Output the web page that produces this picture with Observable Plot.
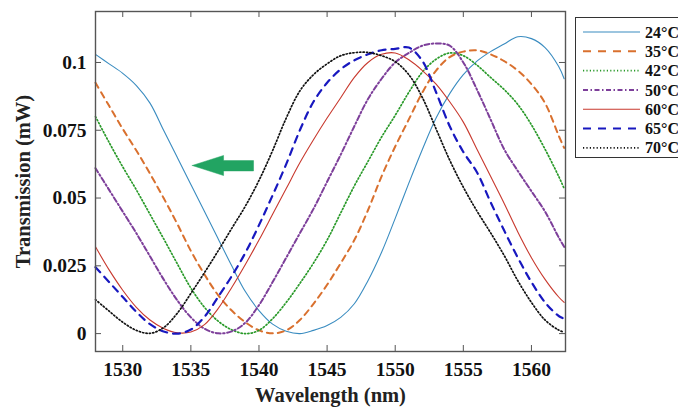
<!DOCTYPE html>
<html><head><meta charset="utf-8">
<script src="https://cdn.jsdelivr.net/npm/d3@7"></script>
<script src="https://cdn.jsdelivr.net/npm/@observablehq/plot@0.6"></script>
<style>body{margin:0;background:#fff}</style>
</head><body><div id="chart"></div>
<script>
// Wavelength samples (nm)
const wavelength = [1528,1529,1530,1531,1532,1533,1534,1535,1536,1537,1538,1539,1540,1541,1542,1543,1544,1545,1546,1547,1548,1549,1550,1551,1552,1553,1554,1555,1556,1557,1558,1559,1560,1561,1562,1562.4];
// Transmission (mW) per temperature
const t24 = [0.103,0.0995,0.096,0.0915,0.085,0.075,0.065,0.055,0.045,0.035,0.025,0.0155,0.0085,0.0035,0.0009,0,0.0012,0.003,0.006,0.011,0.0195,0.030,0.0425,0.0555,0.068,0.0795,0.0885,0.0955,0.1005,0.104,0.1068,0.1095,0.1088,0.1055,0.0985,0.094];
const t35 = [0.0925,0.084,0.0755,0.0675,0.059,0.050,0.0405,0.0305,0.0218,0.0142,0.0085,0.0042,0.0012,0.0001,0.0012,0.005,0.011,0.018,0.026,0.0345,0.0455,0.058,0.069,0.079,0.089,0.097,0.102,0.104,0.1045,0.103,0.1005,0.097,0.092,0.085,0.073,0.0685];
const t42 = [0.080,0.0705,0.0615,0.053,0.044,0.035,0.0258,0.0168,0.0097,0.0046,0.0014,0,0.0012,0.0055,0.0115,0.0185,0.026,0.0345,0.0445,0.0545,0.0635,0.0725,0.0805,0.089,0.0965,0.1012,0.1035,0.1025,0.099,0.0945,0.090,0.0845,0.077,0.068,0.058,0.0535];
const t50 = [0.061,0.053,0.045,0.037,0.0285,0.020,0.0123,0.006,0.0018,0.0001,0.0008,0.004,0.0105,0.019,0.028,0.037,0.046,0.056,0.066,0.0765,0.0865,0.094,0.100,0.1035,0.1062,0.107,0.1062,0.100,0.090,0.079,0.068,0.060,0.0525,0.045,0.0355,0.032];
const t60 = [0.032,0.0235,0.016,0.0097,0.005,0.0019,0.0003,0.0006,0.0033,0.0092,0.017,0.0255,0.0345,0.044,0.0535,0.063,0.0715,0.0795,0.087,0.0945,0.1,0.103,0.1035,0.101,0.097,0.092,0.0855,0.078,0.068,0.058,0.048,0.0375,0.028,0.020,0.0135,0.0115];
const t65 = [0.0245,0.019,0.0135,0.008,0.0035,0.0008,0,0.0015,0.0062,0.0135,0.0212,0.0298,0.040,0.051,0.0625,0.075,0.0855,0.0925,0.0975,0.1008,0.103,0.1045,0.105,0.1055,0.1005,0.089,0.0765,0.067,0.0595,0.0485,0.038,0.028,0.019,0.0115,0.0065,0.0055];
const t70 = [0.0125,0.0083,0.0042,0.0012,0.0001,0.0022,0.0075,0.0148,0.0225,0.0305,0.0388,0.047,0.0565,0.0675,0.0795,0.0895,0.0955,0.0995,0.1025,0.1036,0.1037,0.1025,0.1003,0.0955,0.087,0.0755,0.064,0.054,0.0452,0.0372,0.0288,0.0195,0.0115,0.005,0.0013,0.0005];

const seriesLabels = ["24°C","35°C","42°C","50°C","60°C","65°C","70°C"];
const xTicks = [1530,1535,1540,1545,1550,1555,1560];
const yTicks = [0,0.025,0.05,0.075,0.1];
// Arrow annotation outline (wavelength, transmission)
const arrowWl = [1535.1,1537.4,1537.4,1539.6,1539.6,1537.4,1537.4,1535.1];
const arrowT  = [0.0620,0.0657,0.0638,0.0638,0.0600,0.0600,0.0583,0.0620];

const styles = [
  {color:"#3a8cc0", width:1.1, dash:null, legendDash:null},
  {color:"#d9702e", width:2, dash:"6,5", legendDash:"8,7"},
  {color:"#2a9a2a", width:1.7, dash:"1.2,2.2", legendDash:"1.2,2.2"},
  {color:"#7d3f9a", width:2, dash:"5,2.5,1.5,2.5", legendDash:"5,2.5,1.5,2.5"},
  {color:"#c8392e", width:1.1, dash:null, legendDash:null},
  {color:"#1818bf", width:2.2, dash:"7,6", legendDash:"8,7"},
  {color:"#111111", width:1.7, dash:"1.2,2.2", legendDash:"1.2,2.2"}
];
const seriesValues = [t24,t35,t42,t50,t60,t65,t70];

const W = 678, H = 407, ML = 95, MR = 113, MT = 11, MB = 56;
const innerH = H - MT - MB, innerW = W - ML - MR;
const font = "'Liberation Serif','Times New Roman',serif";

const lineMarks = seriesValues.map((vals, k) => Plot.line(
  wavelength.map((w, i) => ({wl: w, t: vals[i]})),
  {x: "wl", y: "t", stroke: styles[k].color, strokeWidth: styles[k].width,
   strokeDasharray: styles[k].dash ?? undefined, curve: "catmull-rom"}
));

const chart = Plot.plot({
  width: W, height: H,
  marginLeft: ML, marginRight: MR, marginTop: MT, marginBottom: MB,
  style: {fontFamily: font, fontSize: "19.5px", fontWeight: "bold", background: "white", color: "#111", overflow: "visible"},
  x: {domain: [1528, 1562.5], ticks: xTicks, tickSize: 0, tickPadding: 11, label: null, tickFormat: d => String(d)},
  y: {domain: [-0.0066, 0.1188], ticks: yTicks, tickSize: 0, tickPadding: 9, label: null, tickFormat: d => String(d)},
  marks: [
    ...lineMarks,
    Plot.line(arrowWl.map((w, i) => ({wl: w, t: arrowT[i]})), {x: "wl", y: "t", fill: "#22a462", stroke: "#22a462", strokeWidth: 0.5}),
    Plot.ruleX(xTicks, {x: d => d, insetTop: innerH - 6, stroke: "#555", strokeWidth: 1}),
    Plot.ruleX(xTicks, {x: d => d, insetBottom: innerH - 6, stroke: "#555", strokeWidth: 1}),
    Plot.ruleY(yTicks, {y: d => d, insetRight: innerW - 6, stroke: "#555", strokeWidth: 1}),
    Plot.ruleY(yTicks, {y: d => d, insetLeft: innerW - 6, stroke: "#555", strokeWidth: 1}),
    Plot.frame({stroke: "#555", strokeWidth: 1.4}),
    Plot.text(["Wavelength (nm)"], {frameAnchor: "bottom", lineAnchor: "middle", textAnchor: "middle", dy: 44, text: d => d, fontSize: 20.5, fontWeight: "bold", fill: "#222"}),
    Plot.text(["Transmission (mW)"], {frameAnchor: "left", lineAnchor: "middle", textAnchor: "middle", dx: -72, rotate: -90, text: d => d, fontSize: 20.5, fontWeight: "bold", fill: "#222"})
  ]
});
document.getElementById("chart").appendChild(chart);

// Legend (outside the plot frame, on the right)
const svg = d3.select(chart);
const lg = svg.append("g").attr("font-family", font).attr("font-weight", "bold").attr("font-size", 16).attr("text-anchor", "start");
lg.append("rect").attr("x", 575.5).attr("y", 17.5).attr("width", 120).attr("height", 140)
  .attr("fill", "white").attr("stroke", "#333").attr("stroke-width", 1);
seriesLabels.forEach((lab, k) => {
  const y = 32 + k * 19.3;
  lg.append("line").attr("x1", 583).attr("x2", 640).attr("y1", y).attr("y2", y)
    .attr("stroke", styles[k].color).attr("stroke-width", styles[k].width)
    .attr("stroke-dasharray", styles[k].legendDash);
  lg.append("text").attr("x", 645).attr("y", y).attr("dy", "0.35em").attr("fill", "#111").attr("text-anchor", "start").text(lab);
});
</script>
</body></html>
